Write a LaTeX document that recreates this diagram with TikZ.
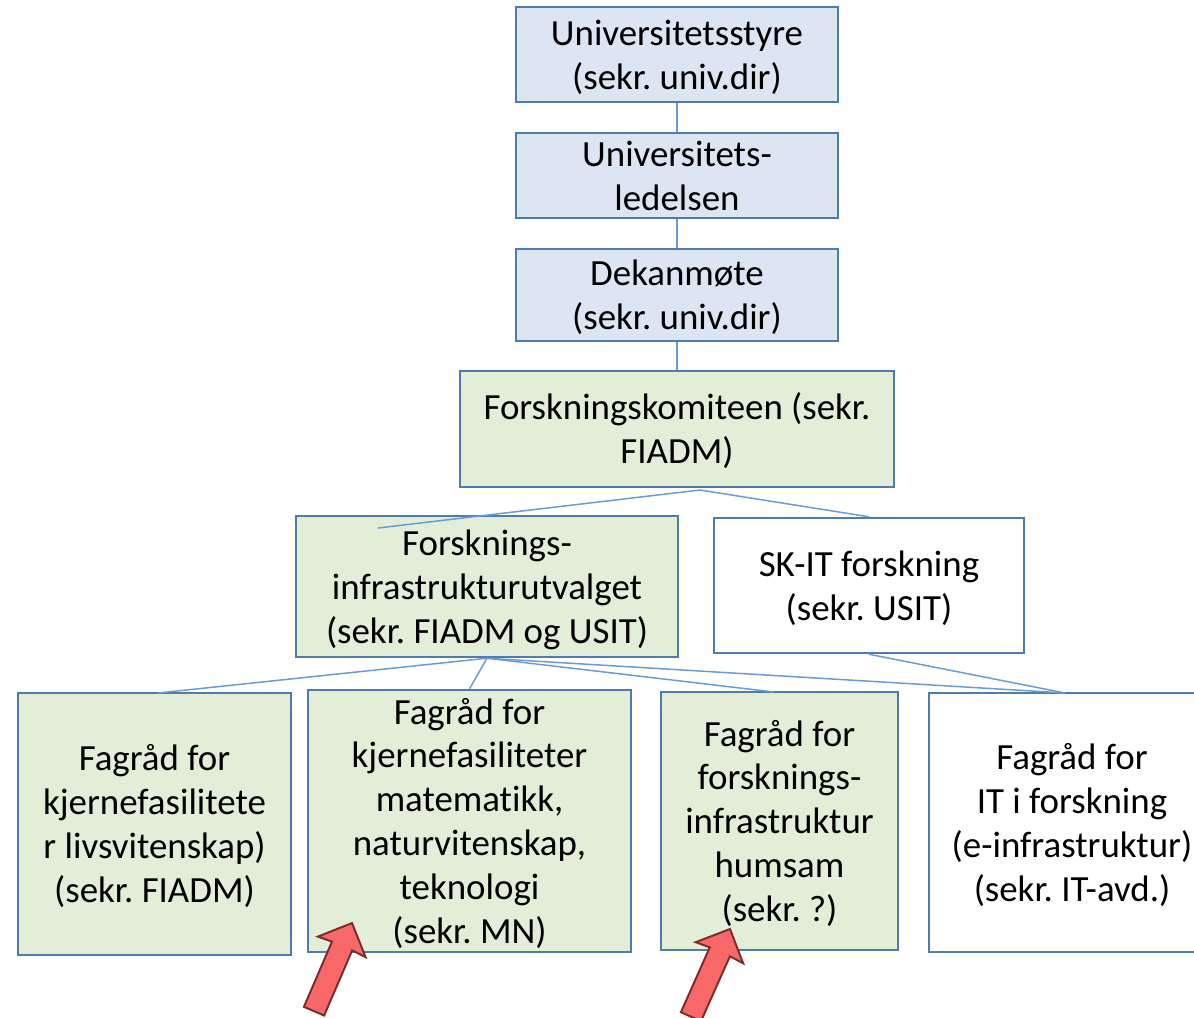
\documentclass[tikz,border=0pt]{standalone}
\usepackage{fontspec}
\setmainfont[Ligatures=NoCommon]{Carlito}
\definecolor{bluefill}{HTML}{DCE6F2}
\definecolor{greenfill}{HTML}{E3EED9}
\definecolor{boxline}{HTML}{4F7CAF}
\definecolor{conline}{HTML}{6A9BD6}
\definecolor{arrowfill}{HTML}{F86868}
\definecolor{arrowline}{HTML}{7A2A2A}
\newcommand{\boxlines}[1]{\raisebox{-7.5pt}[0pt][0pt]{\begin{tabular}{@{}c@{}}#1\end{tabular}}}
\begin{document}
\frenchspacing
\begin{tikzpicture}[x=0.02cm,y=-0.02cm,
 box/.style={draw=boxline, line width=1.4pt, inner sep=0pt, font=\fontsize{21}{25}\selectfont},
 bluebox/.style={box, fill=bluefill},
 greenbox/.style={box, fill=greenfill},
 whitebox/.style={box, fill=white},
 conn/.style={draw=conline, line width=0.85pt},
 redarrow/.pic={\draw[fill=arrowfill, draw=arrowline, line width=1.1pt, line join=miter] (0,0) -- (26,26) -- (11,25) -- (11,96) -- (-11,96) -- (-11,25) -- (-26,26) -- cycle;}
]
\begin{scope}
\clip (0,0) rectangle (1194,1018);
% top chain
\node[bluebox, minimum width=6.44cm, minimum height=1.9cm] (styre) at (677,54.5) {\boxlines{Universitetsstyre\\(sekr. univ.dir)}};
\node[bluebox, minimum width=6.44cm, minimum height=1.7cm] (ledelse) at (677,175.5) {\boxlines{Universitets-\\ledelsen}};
\node[bluebox, minimum width=6.44cm, minimum height=1.84cm] (dekan) at (677,295) {\boxlines{Dekanmøte\\(sekr. univ.dir)}};
\node[greenbox, minimum width=8.68cm, minimum height=2.32cm] (komite) at (677,429) {\boxlines{Forskningskomiteen (sekr.\\FIADM)}};
% second level
\node[greenbox, minimum width=7.64cm, minimum height=2.82cm] (infra) at (487,586.5) {\boxlines{Forsknings-\\infrastrukturutvalget\\(sekr. FIADM og USIT)}};
\node[whitebox, minimum width=6.2cm, minimum height=2.7cm] (skit) at (869,585.5) {\boxlines{SK-IT forskning\\(sekr. USIT)}};
% third level
\node[greenbox, minimum width=5.46cm, minimum height=5.24cm] (liv) at (154.5,824) {\boxlines{Fagråd for\\kjernefasilitete\\r livsvitenskap)\\(sekr. FIADM)}};
\node[greenbox, minimum width=6.46cm, minimum height=5.24cm] (mat) at (469.5,821) {\boxlines{Fagråd for\\kjernefasiliteter\\matematikk,\\naturvitenskap,\\teknologi\\(sekr. MN)}};
\node[greenbox, minimum width=4.74cm, minimum height=5.16cm] (hum) at (779.5,821) {\boxlines{Fagråd for\\forsknings-\\infrastruktur\\humsam\\(sekr. ?)}};
\node[whitebox, minimum width=5.72cm, minimum height=5.18cm] (it) at (1072,822.5) {\boxlines{Fagråd for\\IT i forskning\\(e-infrastruktur)\\(sekr. IT-avd.)}};
% connector end points
\coordinate (kbot) at (700,490);
\coordinate (infrain) at (378,528);
\coordinate (livtop) at (158,693);
\coordinate (humtop) at (774,692);
\coordinate (ittop) at (1065,693);
% connectors
\draw[conn] (styre) -- (ledelse);
\draw[conn] (ledelse) -- (dekan);
\draw[conn] (dekan) -- (komite);
\draw[conn] (kbot) -- (infrain);
\draw[conn] (kbot) -- (skit.north);
\draw[conn] (infra.south) -- (livtop);
\draw[conn] (infra.south) -- (mat.north);
\draw[conn] (infra.south) -- (humtop);
\draw[conn] (infra.south) -- (ittop);
\draw[conn] (skit.south) -- (ittop);
% red arrows
\pic[rotate=-23.3] at (352,923) {redarrow};
\pic[rotate=-24] at (730,929) {redarrow};
\end{scope}
\pgfresetboundingbox
\useasboundingbox (0,0) rectangle (1194,1018);
\end{tikzpicture}
\end{document}
